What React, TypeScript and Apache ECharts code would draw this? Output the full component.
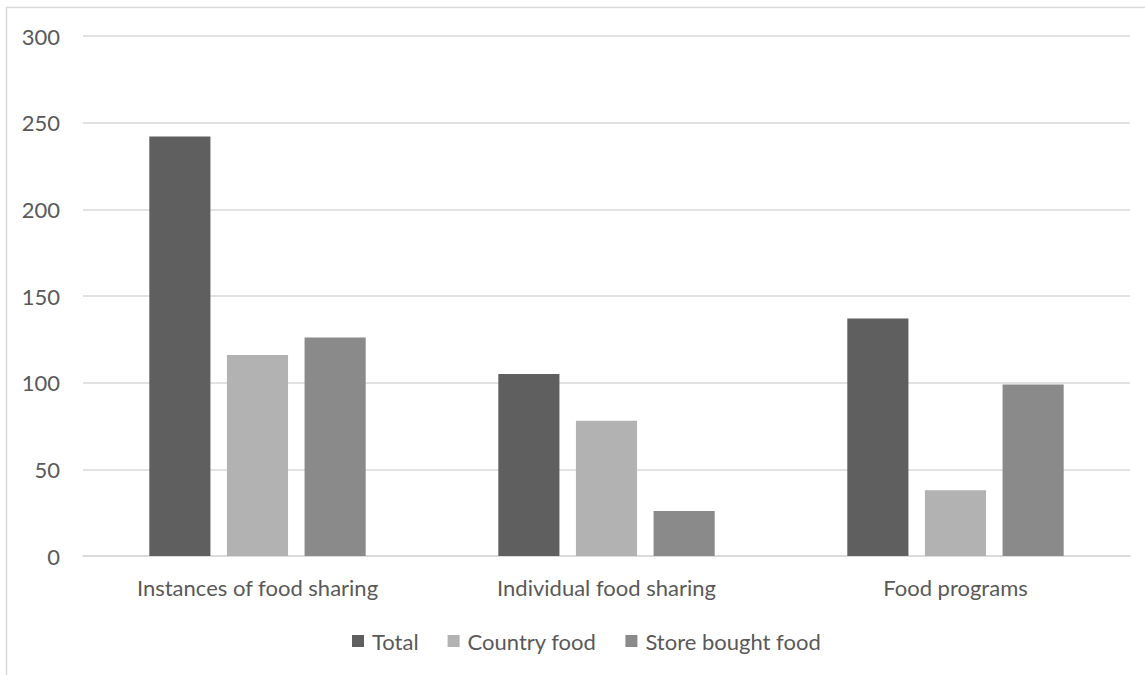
import React, { useEffect, useRef } from "react";
import * as echarts from "echarts";

const categories = ["Instances of food sharing", "Individual food sharing", "Food programs"];
const totalValues = [242, 105, 137];
const countryFoodValues = [116, 78, 38];
const storeBoughtValues = [126, 26, 99];
const seriesNames = ["Total", "Country food", "Store bought food"];
const seriesColors = ["#5f5f5f", "#b2b2b2", "#8a8a8a"];

export default function App() {
  const ref = useRef<HTMLDivElement>(null);
  useEffect(() => {
    const chart = echarts.init(ref.current!, null, { renderer: "svg" });
    const font = "Lato, 'Open Sans', sans-serif";
    const dataSets = [totalValues, countryFoodValues, storeBoughtValues];
    chart.setOption({
      animation: false,
      backgroundColor: "#ffffff",
      graphic: [
        {
          type: "rect",
          shape: { x: 6.5, y: 7.5, width: 1300, height: 800 },
          style: { fill: "none", stroke: "#d9d9d9", lineWidth: 1.5 },
          silent: true,
        },
      ],
      grid: { left: 83, right: 15, top: 36, bottom: 119, containLabel: false },
      legend: {
        data: seriesNames,
        top: 625,
        left: 347,
        itemWidth: 12,
        itemHeight: 12,
        itemGap: 29,
        icon: "rect",
        textStyle: { color: "#595959", fontSize: 22, fontFamily: font, padding: [0, 0, 0, 3] },
      },
      xAxis: {
        type: "category",
        data: categories,
        axisLine: { lineStyle: { color: "#d9d9d9", width: 1.5 } },
        axisTick: { show: false },
        axisLabel: { color: "#595959", fontSize: 22, fontFamily: font, margin: 20 },
      },
      yAxis: {
        type: "value",
        min: 0,
        max: 300,
        interval: 50,
        axisLine: { show: false },
        axisTick: { show: false },
        splitLine: { lineStyle: { color: "#d9d9d9", width: 1.5 } },
        axisLabel: { color: "#595959", fontSize: 22, fontFamily: font, margin: 23 },
      },
      series: seriesNames.map((name, i) => ({
        name,
        type: "bar",
        data: dataSets[i],
        itemStyle: { color: seriesColors[i] },
        barGap: "27%",
        barCategoryGap: "38%",
      })),
    });
    return () => chart.dispose();
  }, []);
  return (
    <div
      ref={ref}
      style={{ position: "absolute", left: 0, top: 0, width: 1145, height: 675 }}
    />
  );
}
